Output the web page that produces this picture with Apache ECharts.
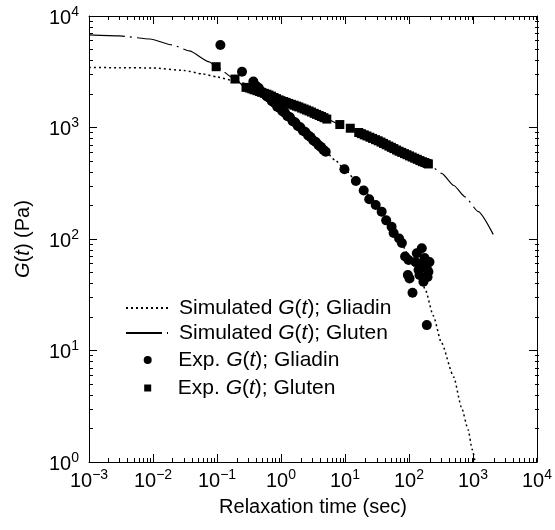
<!DOCTYPE html>
<html>
<head>
<meta charset="utf-8">
<script src="https://cdn.jsdelivr.net/npm/echarts@6/dist/echarts.min.js"></script>
<style>
  html, body { margin: 0; padding: 0; background: #fff; }
  #chart { width: 555px; height: 530px; }
</style>
</head>
<body>
<div id="chart"></div>
<script>
// Stress relaxation modulus G(t) of gliadin and gluten:
// simulated curves (lines) and experimental measurements (markers), log-log axes.

// Simulated G(t), gliadin
const simGliadinT = [0.001, 0.003, 0.01, 0.03, 0.06, 0.1, 0.2, 0.4, 0.7, 1, 2, 3, 5, 7, 10, 15, 20, 30, 50, 70, 100, 130, 155, 180, 240, 320, 500, 660, 840, 970, 1080];
const simGliadinG = [3450, 3440, 3420, 3250, 3020, 2840, 2590, 2330, 1760, 1450, 1000, 790, 606, 510, 420, 330, 272, 205, 135, 101, 70, 52, 43, 35, 20.5, 11.8, 5.8, 3.1, 1.95, 1.3, 1.0];

// Simulated G(t), gluten
const simGlutenT = [0.001, 0.003, 0.009, 0.02, 0.037, 0.076, 0.097, 0.19, 0.28, 0.45, 0.65, 1.0, 1.9, 3.0, 5.2, 8.3, 12, 16.4, 33.6, 68.7, 141, 201, 324, 500, 750, 1210, 2070];
const simGlutenG = [6760, 6620, 6220, 5500, 4860, 3870, 3510, 2720, 2290, 2100, 1955, 1742, 1528, 1374, 1191, 1063, 985, 902, 757, 615, 512, 471, 388, 302, 239, 176, 110];

// Experimental G(t), gliadin
const expGliadinT = [0.113, 0.246, 0.37,
  0.41, 0.45, 0.50, 0.55, 0.60, 0.66, 0.72, 0.79, 0.87, 0.95,
  1.05, 1.15, 1.26, 1.38, 1.52, 1.67, 1.83, 2.0, 2.2, 2.4,
  2.65, 2.9, 3.2, 3.5, 3.85, 4.2, 4.6, 5.0,
  9.8, 14.8, 19.6, 23.9, 30.2, 37.4, 44.0, 53.5, 57.5, 70.0,
  77.4, 86.9, 98.4, 96, 102, 113.5, 158.5, 132.5, 158.5, 189.6,
  201, 168, 141, 190, 126, 209, 175, 146, 195];
const expGliadinG = [5490, 3160, 2580,
  2355, 2260, 2090, 2020, 1900, 1840, 1720, 1670, 1540, 1500,
  1400, 1360, 1265, 1235, 1140, 1110, 1030, 1005, 935, 910,
  850, 820, 765, 740, 695, 670, 630, 606,
  422, 331, 272, 227, 202, 176, 147, 129, 113, 101,
  92, 69.7, 64.9, 47.6, 44.3, 33.0, 82.6, 74.5, 60.5, 54.6,
  50.9, 41.4, 52.7, 16.9, 62.2, 62.2, 67.6, 47.6, 45.6];

// Experimental G(t), gluten
const expGlutenT = [0.097, 0.191, 0.284,
  0.32, 0.35, 0.38, 0.42, 0.46, 0.5, 0.55, 0.6, 0.65, 0.71,
  0.78, 0.85, 0.93, 1.0, 1.1, 1.2, 1.32, 1.45, 1.6, 1.75,
  1.9, 2.1, 2.3, 2.5, 2.75, 3.0, 3.3, 3.6, 3.95, 4.3,
  4.7, 5.2, 8.3, 12.1,
  16.4, 18, 20, 22, 24.5, 27, 30, 33, 36.5, 40,
  44, 48.5, 53, 58, 64, 70, 77, 85, 93, 102,
  112, 123, 135, 148, 162, 177, 192, 201];
const expGlutenG = [3510, 2720, 2290,
  2260, 2220, 2180, 2140, 2100, 2065, 2025, 1990, 1955, 1910,
  1860, 1815, 1770, 1740, 1710, 1680, 1645, 1615, 1585, 1555,
  1530, 1495, 1465, 1435, 1405, 1375, 1340, 1310, 1280, 1255,
  1225, 1190, 1063, 985,
  902, 881, 859, 840, 818, 798, 778, 760, 740, 720,
  700, 681, 664, 647, 628, 612, 598, 583, 570, 556,
  543, 530, 518, 505, 494, 485, 476, 471];

// Axis ranges and tick-label exponents
const xMin = 1e-3, xMax = 1e4;
const yMin = 1, yMax = 1e4;
const xTickExponents = ['\u22123', '\u22122', '\u22121', '0', '1', '2', '3', '4'];
const yTickExponents = ['0', '1', '2', '3', '4'];

const FONT = '"Liberation Sans", Arial, Helvetica, sans-serif';
const zip = (xs, ys) => xs.map((x, i) => [x, ys[i]]);

// log10 positions of the 2..9 minor ticks inside each decade
function minorLogPositions(lo, hi) {
  const out = [];
  for (let k = lo; k < hi; k++) {
    for (let m = 2; m <= 9; m++) out.push(k + Math.log10(m));
  }
  return out;
}

const powerRich = {
  b: { fontFamily: FONT, fontSize: 20, color: '#000' },
  s: { fontFamily: FONT, fontSize: 14, color: '#000', padding: [0, 0, 12, 0] }
};

function powerFormatter(exps, firstExp) {
  return v => '{b|10}{s|' + exps[Math.round(Math.log10(v)) - firstExp] + '}';
}

const blackLine = () => ({ color: '#000', width: 1 });

// Main log axes: frame, decade ticks, labels
function majorAxis(position, min, max, labelOpts, nameOpts) {
  return Object.assign({
    type: 'log', min, max, position, gridIndex: 0,
    axisLine: { show: true, onZero: false, lineStyle: blackLine() },
    axisTick: { show: true, inside: true, length: 8, lineStyle: blackLine() },
    axisLabel: labelOpts || { show: false },
    splitLine: { show: false }
  }, nameOpts || {});
}

// Overlay value axes in log10 space carrying the minor ticks
function minorAxis(position, lo, hi) {
  return {
    type: 'value', min: lo, max: hi, position, gridIndex: 1,
    axisLine: { show: false, onZero: false },
    axisTick: { show: true, inside: true, length: 4, lineStyle: blackLine(),
                customValues: minorLogPositions(lo, hi) },
    axisLabel: { show: false },
    splitLine: { show: false }
  };
}

function legendRow(name, left, top, itemHeight, textPad, icon, hideSymbol) {
  const item = { name };
  if (icon) item.icon = icon;
  if (hideSymbol) item.itemStyle = { opacity: 0 };
  return {
    data: [item], left, top, padding: 0, itemGap: 0,
    itemWidth: 42, itemHeight, selectedMode: false,
    formatter: n => n.replace('G(t)', '{i|G}({i|t})'),
    textStyle: {
      fontFamily: FONT, fontSize: 21, color: '#000', padding: [0, 0, 0, textPad],
      rich: { i: { fontFamily: FONT, fontSize: 21, color: '#000', fontStyle: 'italic' } }
    }
  };
}

const gridBox = { left: 89, right: 16, top: 16, bottom: 68 };

const option = {
  animation: false,
  backgroundColor: '#fff',
  grid: [Object.assign({}, gridBox), Object.assign({}, gridBox)],
  xAxis: [
    majorAxis('bottom', xMin, xMax,
      { show: true, margin: 6, formatter: powerFormatter(xTickExponents, -3), rich: powerRich },
      { name: 'Relaxation time (sec)', nameLocation: 'middle', nameGap: 35,
        nameTextStyle: { fontFamily: FONT, fontSize: 20, color: '#000' } }),
    majorAxis('top', xMin, xMax),
    minorAxis('bottom', -3, 4),
    minorAxis('top', -3, 4)
  ],
  yAxis: [
    majorAxis('left', yMin, yMax,
      { show: true, margin: 10, padding: [4, 0, 0, 0],
        formatter: powerFormatter(yTickExponents, 0), rich: powerRich },
      { name: '{i|G}({i|t}) (Pa)', nameLocation: 'middle', nameGap: 56,
        nameTextStyle: { fontFamily: FONT, fontSize: 20, color: '#000',
          rich: { i: { fontFamily: FONT, fontSize: 20, color: '#000', fontStyle: 'italic' } } } }),
    majorAxis('right', yMin, yMax),
    minorAxis('left', 0, 4),
    minorAxis('right', 0, 4)
  ],
  legend: [
    legendRow('Simulated G(t); Gliadin', 125, 297.5, 10, 6, null, true),
    legendRow('Simulated G(t); Gluten', 125, 322.5, 10, 6, null, true),
    legendRow('Exp. G(t); Gliadin', 143.7, 349.5, 8, 4.6, 'circle', false),
    legendRow('Exp. G(t); Gluten', 144.2, 377.5, 7, 4.1, 'path://M0 0H10V10H0Z', false)
  ],
  series: [
    {
      name: 'Simulated G(t); Gliadin', type: 'line', xAxisIndex: 0, yAxisIndex: 0,
      data: zip(simGliadinT, simGliadinG), symbol: 'none', showSymbol: false,
      smooth: 0.2, smoothMonotone: 'x',
      lineStyle: { color: '#000', width: 1.5, type: [2, 3] },
      itemStyle: { color: '#000' }, z: 2
    },
    {
      name: 'Simulated G(t); Gluten', type: 'line', xAxisIndex: 0, yAxisIndex: 0,
      data: zip(simGlutenT, simGlutenG), symbol: 'none', showSymbol: false,
      smooth: 0.2, smoothMonotone: 'x',
      lineStyle: { color: '#000', width: 1.2, type: [36, 5, 2, 5] },
      itemStyle: { color: '#000' }, z: 2
    },
    {
      name: 'Exp. G(t); Gliadin', type: 'scatter', xAxisIndex: 0, yAxisIndex: 0,
      data: zip(expGliadinT, expGliadinG), symbol: 'circle', symbolSize: 10,
      itemStyle: { color: '#000', opacity: 1 }, z: 3
    },
    {
      name: 'Exp. G(t); Gluten', type: 'scatter', xAxisIndex: 0, yAxisIndex: 0,
      data: zip(expGlutenT, expGlutenG), symbol: 'rect', symbolSize: 9,
      itemStyle: { color: '#000', opacity: 1 }, z: 3
    }
  ]
};

const chart = echarts.init(document.getElementById('chart'), null, { renderer: 'canvas' });
chart.setOption(option);
</script>
</body>
</html>
